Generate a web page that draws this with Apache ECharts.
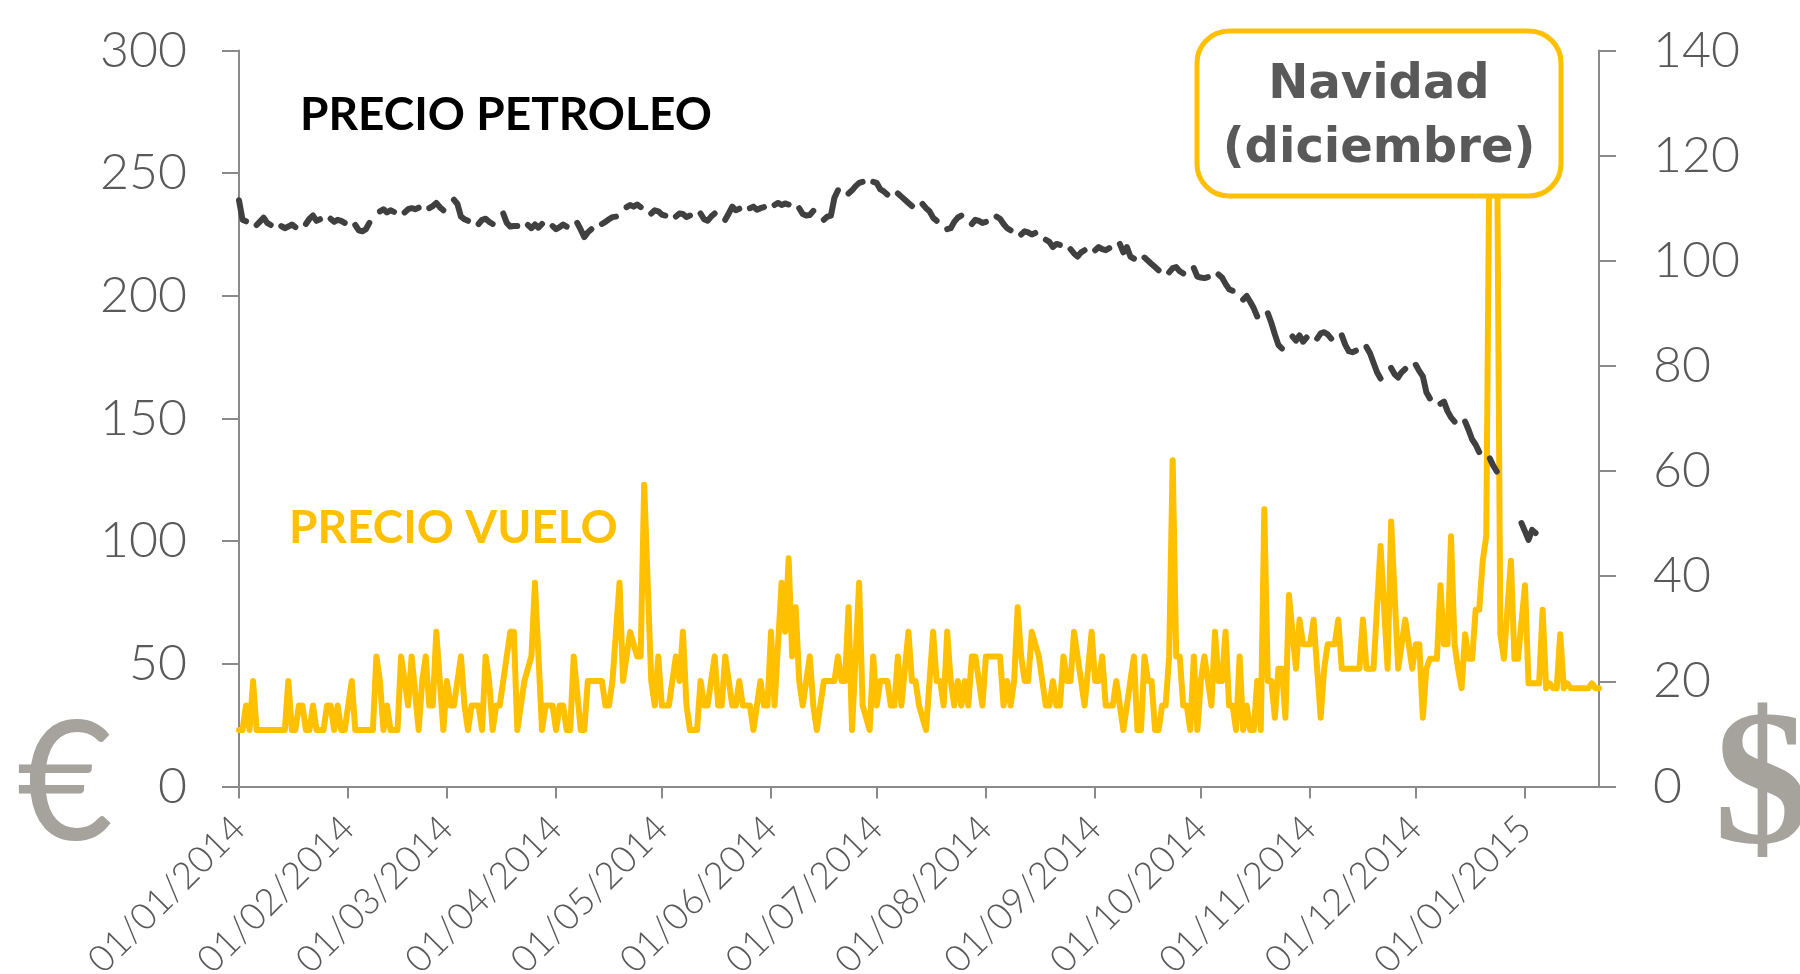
<!DOCTYPE html>
<html>
<head>
<meta charset="utf-8">
<script src="https://cdn.jsdelivr.net/npm/echarts@6/dist/echarts.min.js"></script>
<style>
html,body{margin:0;padding:0;background:#fff;}
#chart{width:1800px;height:974px;}
</style>
</head>
<body>
<div id="chart"></div>
<script>
// Daily flight price (EUR, left axis), one value per day from 01/01/2014
const flightPrice = [
23,23,33,23,43,23,23,23,23,23,
23,23,23,23,43,23,23,33,33,23,
23,33,23,23,23,33,33,23,33,23,
23,33,43,23,23,23,23,23,23,53,
43,23,33,23,23,23,53,43,33,53,
38,23,43,53,33,33,63,43,23,43,
33,33,43,53,33,23,33,33,33,23,
53,43,23,33,33,43,53,63,63,23,
33,43,48,53,83,53,23,33,33,33,
23,33,33,23,23,53,38,23,23,43,
43,43,43,43,33,33,43,63,83,43,
53,63,58,53,53,123,83,43,33,53,
33,33,33,43,53,43,63,33,23,23,
23,43,33,33,43,53,33,33,53,43,
33,33,43,33,33,33,23,33,43,33,
33,63,33,58,83,63,93,53,73,43,
33,43,53,33,23,33,43,43,43,43,
53,43,43,73,23,53,83,33,28,23,
53,33,43,43,43,33,33,53,33,48,
63,43,43,33,28,23,43,63,43,43,
33,63,43,33,43,33,43,33,53,53,
43,33,53,53,53,53,53,33,43,33,
43,73,53,43,43,63,58,53,43,33,
33,43,33,33,53,43,43,63,53,43,
33,48,63,43,43,53,33,33,33,43,
33,23,33,43,53,23,23,53,43,43,
23,23,33,33,53,133,53,53,33,33,
23,53,23,43,53,43,33,63,43,43,
63,33,33,23,53,23,33,23,23,43,
23,113,43,43,28,48,48,28,78,63,
48,68,58,58,58,68,48,28,48,58,
58,58,68,48,48,48,48,48,48,68,
48,48,48,73,98,73,48,108,78,48,
58,68,58,48,58,58,28,48,52,52,
52,82,58,58,102,58,48,40,62,52,
52,72,72,92,102,280,290,280,62,52,
72,92,52,52,67,82,42,42,42,42,
72,40,42,40,40,62,40,42,40,40,
40,40,40,40,42,40,40
];

// Daily oil price (USD, right axis); null = no quote (weekends / holidays)
const oilPrice = [
111.5,107.8,107.5,null,null,
106.8,107.5,108.2,107.2,106.8,null,null,
106.6,106.2,106.5,106.9,106.4,null,null,
107.0,108.0,108.6,107.6,107.9,null,null,
108.0,107.4,107.8,107.6,107.2,null,null,
106.8,105.8,105.6,106.0,107.2,null,null,
109.4,109.8,109.2,109.6,109.3,null,null,
109.2,109.8,110.0,109.8,110.1,null,null,
110.0,110.4,111.0,110.2,109.6,null,null,
111.6,110.8,108.4,107.9,107.6,null,null,
107.0,107.8,108.0,107.4,107.0,null,null,
109.0,107.2,106.5,106.6,106.6,null,null,
106.8,106.2,106.9,106.3,107.0,null,null,
106.6,106.0,106.4,106.9,106.5,null,null,
107.2,105.9,104.5,105.4,106.0,null,null,
107.0,107.4,107.9,108.3,108.4,null,null,
110.2,110.6,110.3,110.7,110.2,null,null,
109.0,109.6,109.4,108.8,108.6,null,null,
108.4,109.0,108.9,108.3,108.6,null,null,
109.0,107.9,107.6,108.4,109.0,null,null,
107.8,109.0,110.3,109.6,109.9,null,null,
110.0,110.3,109.7,110.0,110.2,null,null,
110.6,111.0,110.6,110.9,110.7,null,null,
110.0,108.9,108.6,108.7,109.5,null,null,
107.8,108.4,108.6,112.0,113.4,null,null,
112.8,113.4,114.2,114.8,115.0,null,null,
115.0,114.8,113.6,113.2,112.6,null,null,
112.8,112.2,111.6,111.0,110.4,null,null,
110.8,110.0,109.4,108.2,107.6,null,null,
106.0,106.2,107.4,108.2,108.6,null,null,
107.0,107.8,107.6,107.2,107.4,null,null,
108.4,108.0,107.0,106.2,105.8,null,null,
105.0,105.6,105.4,105.0,105.3,null,null,
104.0,103.6,102.6,103.2,103.0,null,null,
102.2,101.4,100.8,101.6,102.0,null,null,
102.0,102.6,102.2,102.0,102.4,null,null,
103.2,101.6,102.6,100.8,100.4,null,null,
100.6,100.0,99.4,98.8,98.2,null,null,
97.8,98.6,98.8,98.0,97.6,null,null,
98.6,97.0,96.8,96.7,96.9,null,null,
97.4,96.8,95.6,94.6,94.3,null,null,
92.6,93.3,92.2,91.0,89.4,null,null,
90.0,88.2,86.0,84.0,83.3,null,null,
85.6,84.8,85.8,84.6,85.4,null,null,
85.2,86.2,86.4,86.0,85.2,null,null,
85.8,84.0,82.8,82.6,82.9,null,null,
83.6,82.4,80.6,78.8,77.6,null,null,
79.6,78.4,77.8,78.8,79.4,null,null,
80.2,79.0,78.0,75.0,73.8,null,null,
72.8,73.2,71.4,70.2,69.4,null,null,
69.4,67.8,66.0,65.0,63.6,null,null,
62.4,61.0,59.9,null,null,null,null,
null,null,50.1,48.5,46.9,48.8,48.2,
null,null,null,null,null,null,null,null,null,
null,null,null,null,null,null,null,null,null
];

const startDay = Date.UTC(2014, 0, 1);
const pad = n => (n < 10 ? '0' : '') + n;
const categories = flightPrice.map((_, i) => {
  const d = new Date(startDay + i * 86400000);
  return pad(d.getUTCDate()) + '/' + pad(d.getUTCMonth() + 1) + '/' + d.getUTCFullYear();
});

const leftAxis = { min: 0, max: 300, step: 50 };
const rightAxis = { min: 0, max: 140, step: 20 };
const seriesNames = ['PRECIO VUELO', 'PRECIO PETROLEO'];
const noteLines = ['Navidad', '(diciembre)'];

const axisGrey = '#8a8a8a';
const labelGrey = '#595959';
const isMonthStart = (i, v) => v.slice(0, 3) === '01/';

const chart = echarts.init(document.getElementById('chart'), null, { renderer: 'canvas' });
chart.setOption({
  animation: false,
  backgroundColor: '#ffffff',
  grid: { left: 239, right: 201, top: 50.5, bottom: 187.6, containLabel: false, outerBoundsMode: 'none' },
  xAxis: {
    type: 'category',
    data: categories,
    boundaryGap: false,
    axisLine: { show: true, lineStyle: { color: axisGrey, width: 2 } },
    axisTick: { show: true, interval: isMonthStart, length: 12, lineStyle: { color: axisGrey, width: 2 } },
    axisLabel: { interval: isMonthStart, rotate: 45, margin: 36, color: labelGrey,
      fontFamily: 'Lato', fontWeight: 300, fontSize: 37 },
    splitLine: { show: false }
  },
  yAxis: [
    {
      type: 'value', position: 'left', min: leftAxis.min, max: leftAxis.max, interval: leftAxis.step,
      axisLine: { show: true, lineStyle: { color: axisGrey, width: 2 } },
      axisTick: { show: true, length: 17, lineStyle: { color: axisGrey, width: 2 } },
      axisLabel: { margin: 52, color: labelGrey, fontFamily: 'Lato', fontWeight: 300, fontSize: 50 },
      splitLine: { show: false }
    },
    {
      type: 'value', position: 'right', min: rightAxis.min, max: rightAxis.max, interval: rightAxis.step,
      axisLine: { show: true, lineStyle: { color: axisGrey, width: 2 } },
      axisTick: { show: true, length: 17, lineStyle: { color: axisGrey, width: 2 } },
      axisLabel: { margin: 54, color: labelGrey, fontFamily: 'Lato', fontWeight: 300, fontSize: 50 },
      splitLine: { show: false }
    }
  ],
  series: [
    {
      name: seriesNames[0], type: 'line', yAxisIndex: 0, data: flightPrice,
      showSymbol: false, symbol: 'none', z: 2,
      lineStyle: { color: '#FFC000', width: 6, join: 'round', cap: 'round' }
    },
    {
      name: seriesNames[1], type: 'line', yAxisIndex: 1, data: oilPrice,
      showSymbol: false, symbol: 'none', connectNulls: false, z: 3,
      lineStyle: { color: '#404040', width: 6, join: 'round', cap: 'round' }
    }
  ],
  graphic: [
    { type: 'text', x: 300, y: 115, z: 50,
      style: { text: seriesNames[1], fill: '#000000', font: 'bold 46px Lato', textVerticalAlign: 'middle', verticalAlign: 'middle' } },
    { type: 'text', x: 289, y: 528, z: 50,
      style: { text: seriesNames[0], fill: '#FFC000', font: 'bold 46px Lato', textVerticalAlign: 'middle', verticalAlign: 'middle' } },
    { type: 'rect', z: 100,
      shape: { x: 1197, y: 31, width: 364, height: 165, r: 32 },
      style: { fill: '#ffffff', stroke: '#FFC000', lineWidth: 5 } },
    { type: 'text', x: 1379, y: 86, z: 101,
      style: { text: noteLines[0], fill: '#595959', font: 'bold 48px "DejaVu Sans"', textAlign: 'center', align: 'center', textVerticalAlign: 'middle', verticalAlign: 'middle' } },
    { type: 'text', x: 1379, y: 150, z: 101,
      style: { text: noteLines[1], fill: '#595959', font: 'bold 48px "DejaVu Sans"', textAlign: 'center', align: 'center', textVerticalAlign: 'middle', verticalAlign: 'middle' } },
    { type: 'text', x: 17, y: 786, z: 50,
      style: { text: '€', fill: '#A6A39C', font: '166px Lato', textVerticalAlign: 'middle', verticalAlign: 'middle' } },
    { type: 'text', x: 1714, y: 792, z: 50,
      style: { text: '$', fill: '#A6A39C', font: 'bold 192px "Liberation Serif"', textVerticalAlign: 'middle', verticalAlign: 'middle' } }
  ]
});
</script>
</body>
</html>
